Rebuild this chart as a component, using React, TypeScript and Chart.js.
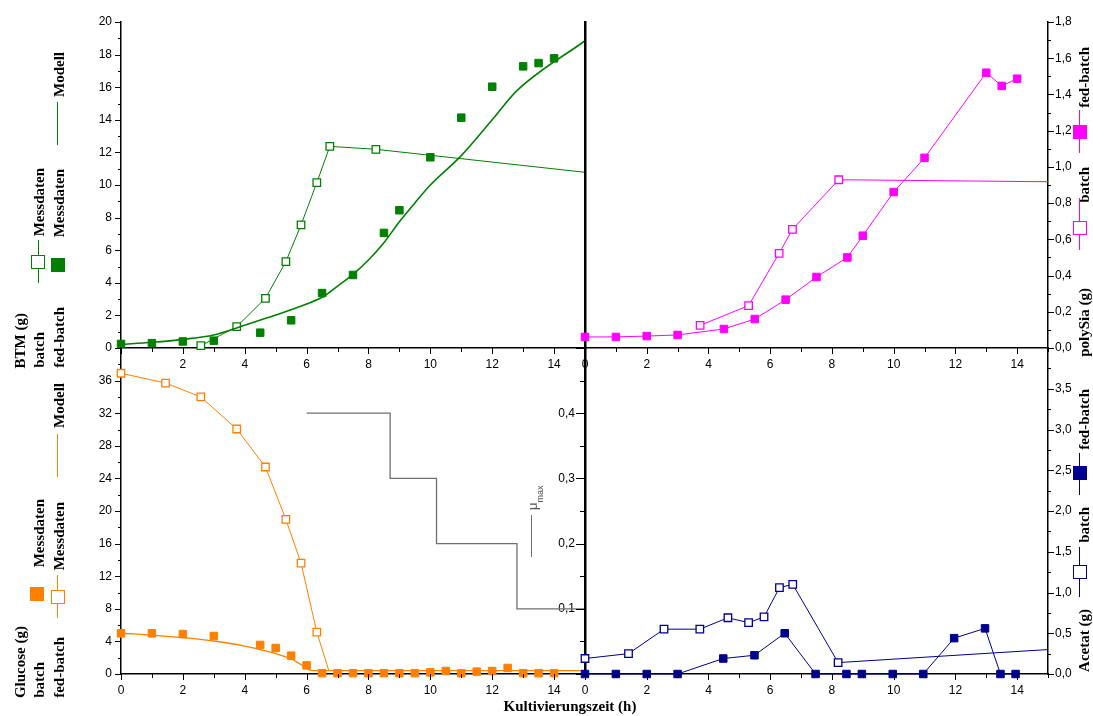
import React, { useEffect, useRef } from 'react';
import { Chart, registerables } from 'chart.js';
Chart.register(...registerables);

const W = 1093;
const H = 716;

// ---------- DATA ----------
// BTM (g) – top left
const btmFedTime = [0, 1, 2, 3, 4.5, 5.5, 6.5, 7.5, 8.5, 9, 10, 11, 12, 13, 13.5, 14];
const btmFedVal = [0.25, 0.3, 0.4, 0.45, 0.94, 1.7, 3.37, 4.48, 7.06, 8.45, 11.7, 14.13, 16.03, 17.28, 17.48, 17.77];
const btmModelTime = [0, 1, 2, 3, 4, 5, 6, 6.5, 7, 7.5, 8, 8.5, 9, 9.5, 10, 11, 12, 12.8, 15];
const btmModelVal = [0.22, 0.35, 0.53, 0.8, 1.4, 2.02, 2.7, 3.11, 3.8, 4.52, 5.4, 6.46, 7.75, 8.9, 10.0, 11.8, 14.0, 15.79, 18.85];
const btmBatchTime = [2.58, 3.74, 4.67, 5.33, 5.82, 6.33, 6.75, 8.24, 15];
const btmBatchVal = [0.14, 1.31, 3.05, 5.3, 7.55, 10.14, 12.37, 12.19, 10.78];

// polySia (g) – top right
const psFedTime = [0, 1, 2, 3, 4.5, 5.5, 6.5, 7.5, 8.5, 9, 10, 11, 13, 13.5, 14];
const psFedVal = [0.061, 0.061, 0.066, 0.072, 0.105, 0.16, 0.267, 0.392, 0.5, 0.62, 0.861, 1.05, 1.52, 1.447, 1.487];
const psBatchTime = [3.73, 5.3, 6.29, 6.72, 8.22, 15];
const psBatchVal = [0.125, 0.234, 0.523, 0.655, 0.929, 0.918];

// Glucose (g) – bottom left
const gluBatchTime = [0, 1, 2, 3, 4.5, 5, 5.5, 6, 6.5, 7, 7.5, 8, 8.5, 9, 9.5, 10, 10.5, 11, 11.5, 12, 12.5, 13, 13.5, 14];
const gluBatchVal = [4.99, 4.99, 4.9, 4.66, 3.56, 3.19, 2.25, 1.06, 0.1, 0.1, 0.1, 0.1, 0.1, 0.1, 0.1, 0.2, 0.37, 0.1, 0.29, 0.37, 0.74, 0.1, 0.1, 0.1];
const gluModelTime = [0, 1, 2, 3, 4, 5, 5.5, 5.84, 6.11, 6.3, 15];
const gluModelVal = [5.0, 4.78, 4.46, 4.05, 3.43, 2.5, 1.84, 1.1, 0.49, 0.42, 0.42];
const gluFedTime = [0, 1.44, 2.58, 3.74, 4.67, 5.33, 5.82, 6.33, 6.72];
const gluFedVal = [36.9, 35.7, 34.0, 30.06, 25.4, 18.98, 13.6, 5.15, 0.4];

// mu_max – bottom left, secondary axis
const muTime = [6.0, 8.7, 10.2, 12.8, 15];
const muVal = [0.4, 0.3, 0.2, 0.1, 0.1];

// Acetat (g) – bottom right
const acFedTime = [0, 1, 2, 3, 4.48, 5.49, 6.47, 7.47, 8.47, 8.97, 9.97, 10.96, 11.96, 12.96, 13.46, 13.95];
const acFedVal = [0, 0, 0, 0, 0.19, 0.23, 0.5, 0, 0, 0, 0, 0, 0.44, 0.56, 0, 0];
const acBatchTime = [0, 1.41, 2.56, 3.72, 4.63, 5.3, 5.8, 6.3, 6.73, 8.2, 15];
const acBatchVal = [0.19, 0.25, 0.55, 0.55, 0.69, 0.63, 0.7, 1.06, 1.1, 0.14, 0.3];

// ---------- STYLE ----------
const GREEN = '#008000';
const MAGENTA = '#ff00ff';
const ORANGE = '#ff8000';
const NAVY = '#00008f';
const GRAY = '#707070';
const TICK_FONT = { family: "'Liberation Sans', Arial, sans-serif", size: 12 };
const SERIF = "'Liberation Serif', 'Times New Roman', Times, serif";

const xy = (t: number[], v: number[]) => t.map((x, i) => ({ x, y: v[i] }));
const comma = (v: number) => v.toFixed(1).replace('.', ',');

function makeTickPlugin(items: any[]) {
  return {
    id: 'tickMarks',
    afterDraw(chart: any) {
      const ctx = chart.ctx;
      const ca = chart.chartArea;
      ctx.save();
      ctx.strokeStyle = '#000';
      ctx.lineWidth = 1;
      for (const it of items) {
        const sc = chart.scales[it.id];
        if (!sc) continue;
        const n = Math.round((sc.max - sc.min) / it.minor);
        for (let i = 0; i <= n; i++) {
          const v = sc.min + i * it.minor;
          const r = v / it.major;
          const isMajor = Math.abs(r - Math.round(r)) < 1e-6;
          const len = isMajor ? it.majorLen : it.minorLen;
          const p = Math.round(sc.getPixelForValue(v)) + 0.5;
          ctx.beginPath();
          if (sc.isHorizontal()) {
            const y0 = sc.position === 'bottom' ? ca.bottom : ca.top;
            const dir = (sc.position === 'bottom' ? 1 : -1) * (it.inward ? -1 : 1);
            ctx.moveTo(p, y0);
            ctx.lineTo(p, y0 + dir * len);
          } else {
            const x0 = sc.position === 'left' ? ca.left : ca.right;
            const dir = (sc.position === 'left' ? -1 : 1) * (it.inward ? -1 : 1);
            ctx.moveTo(x0, p);
            ctx.lineTo(x0 + dir * len, p);
          }
          ctx.stroke();
        }
      }
      ctx.restore();
    },
  };
}

const fixSize = (size: number) => (s: any) => {
  if (s.isHorizontal()) s.height = size;
  else s.width = size;
};

function timeAxis(showZero: boolean) {
  return {
    type: 'linear',
    axis: 'x',
    position: 'bottom',
    min: 0,
    max: 15,
    afterFit: fixSize(30),
    grid: { display: false, drawTicks: false, tickLength: 0 },
    border: { display: true, color: '#000', width: 1.5 },
    ticks: {
      stepSize: 2,
      autoSkip: false,
      maxRotation: 0,
      minRotation: 0,
      padding: 9,
      color: '#000',
      font: TICK_FONT,
      callback: (v: number) => (v < 15 && v % 2 === 0 && (showZero || v !== 0) ? String(v) : ''),
    },
  };
}

function valueAxis(position: string, min: number, max: number, step: number, fmt: (v: number) => string, width: number, padding: number) {
  return {
    type: 'linear',
    axis: 'y',
    position,
    min,
    max,
    afterFit: fixSize(width),
    grid: { display: false, drawTicks: false, tickLength: 0 },
    border: { display: true, color: '#000', width: 1.5 },
    ticks: { stepSize: step, autoSkip: false, padding, color: '#000', font: TICK_FONT, callback: fmt },
  };
}

function hiddenAxis(position: string) {
  return {
    type: 'linear',
    axis: 'y',
    position,
    min: 0,
    max: 1,
    afterFit: fixSize(0),
    grid: { display: false, drawTicks: false, tickLength: 0 },
    border: { display: true, color: '#000', width: 2.5 },
    ticks: { display: false },
  };
}

function baseOptions(pad: any, scales: any) {
  return {
    responsive: false,
    maintainAspectRatio: false,
    animation: false,
    devicePixelRatio: 1,
    events: [],
    layout: { padding: pad },
    plugins: { legend: { display: false }, tooltip: { enabled: false } },
    scales,
  };
}

function lineSet(data: any[], color: string, width: number, extra: any = {}) {
  return {
    data,
    xAxisID: 'x',
    yAxisID: 'y',
    showLine: true,
    borderColor: color,
    borderWidth: width,
    pointRadius: 0,
    clip: 8,
    ...extra,
  };
}

function markerSet(data: any[], color: string, filled: boolean, withLine: boolean, lastHidden: number = 0) {
  const n = data.length;
  return {
    data,
    xAxisID: 'x',
    yAxisID: 'y',
    showLine: withLine,
    borderColor: color,
    borderWidth: 1,
    pointStyle: 'rect',
    pointRadius: (c: any) => (c.dataIndex >= n - lastHidden ? 0 : 5.3),
    pointBackgroundColor: filled ? color : '#ffffff',
    pointBorderColor: color,
    pointBorderWidth: filled ? 1 : 1.3,
    clip: 8,
  };
}

function makeTL() {
  return {
    type: 'scatter',
    data: {
      datasets: [
        markerSet(xy(btmFedTime, btmFedVal), GREEN, true, false),
        lineSet(xy(btmModelTime, btmModelVal), GREEN, 1.6, { cubicInterpolationMode: 'monotone' }),
        markerSet(xy(btmBatchTime, btmBatchVal), GREEN, false, true, 1),
      ],
    },
    options: baseOptions(
      { left: 61, right: 508, top: 22, bottom: 338 },
      {
        x: timeAxis(false),
        y: valueAxis('left', 0, 20, 2, (v: number) => String(v), 60, 9),
      }
    ),
    plugins: [
      makeTickPlugin([
        { id: 'x', major: 2, minor: 1, majorLen: 6, minorLen: 4 },
        { id: 'y', major: 2, minor: 1, majorLen: 6, minorLen: 3 },
      ]),
    ],
  };
}

function makeTR() {
  return {
    type: 'scatter',
    data: {
      datasets: [
        markerSet(xy(psFedTime, psFedVal), MAGENTA, true, true),
        markerSet(xy(psBatchTime, psBatchVal), MAGENTA, false, true, 1),
      ],
    },
    options: baseOptions(
      { left: 585, right: 5, top: 22, bottom: 338 },
      {
        x: timeAxis(true),
        y: valueAxis('right', 0, 1.8, 0.2, comma, 40, 7),
        yl: hiddenAxis('left'),
      }
    ),
    plugins: [
      makeTickPlugin([
        { id: 'x', major: 2, minor: 1, majorLen: 6, minorLen: 4 },
        { id: 'y', major: 0.2, minor: 0.1, majorLen: 6, minorLen: 3 },
      ]),
    ],
  };
}

function makeBL() {
  const muAxis: any = valueAxis('right', 0, 0.5, 0.1, (v: number) => (v > 0.01 && v < 0.49 ? comma(v) : ''), 0, -10);
  muAxis.border = { display: false };
  muAxis.ticks.mirror = true;
  return {
    type: 'scatter',
    data: {
      datasets: [
        lineSet(xy(muTime, muVal), GRAY, 1.3, { yAxisID: 'mu', stepped: 'before' }),
        markerSet(xy(gluBatchTime, gluBatchVal), ORANGE, true, false),
        lineSet(xy(gluModelTime, gluModelVal), ORANGE, 1.3, { cubicInterpolationMode: 'monotone' }),
        markerSet(xy(gluFedTime, gluFedVal), ORANGE, false, true, 1),
      ],
    },
    options: baseOptions(
      { left: 61, right: 508, top: 348, bottom: 12 },
      {
        x: timeAxis(true),
        y: valueAxis('left', 0, 40, 4, (v: number) => (v < 39 ? String(v) : ''), 60, 9),
        mu: muAxis,
      }
    ),
    plugins: [
      makeTickPlugin([
        { id: 'x', major: 2, minor: 1, majorLen: 6, minorLen: 4 },
        { id: 'y', major: 4, minor: 2, majorLen: 6, minorLen: 3 },
        { id: 'mu', major: 0.1, minor: 0.05, majorLen: 9, minorLen: 5, inward: true },
      ]),
    ],
  };
}

function makeBR() {
  return {
    type: 'scatter',
    data: {
      datasets: [
        markerSet(xy(acFedTime, acFedVal), NAVY, true, true),
        markerSet(xy(acBatchTime, acBatchVal), NAVY, false, true, 1),
      ],
    },
    options: baseOptions(
      { left: 585, right: 5, top: 348, bottom: 12 },
      {
        x: timeAxis(true),
        y: valueAxis('right', 0, 4, 0.5, (v: number) => (v < 3.9 ? comma(v) : ''), 40, 7),
        yl: hiddenAxis('left'),
      }
    ),
    plugins: [
      makeTickPlugin([
        { id: 'x', major: 2, minor: 1, majorLen: 6, minorLen: 4 },
        { id: 'y', major: 0.5, minor: 0.25, majorLen: 6, minorLen: 3 },
      ]),
    ],
  };
}

function PanelChart({ make }: { make: () => any }) {
  const ref = useRef<HTMLCanvasElement>(null);
  useEffect(() => {
    const chart = new Chart(ref.current as HTMLCanvasElement, make());
    return () => chart.destroy();
  }, []);
  return (
    <canvas
      ref={ref}
      width={W}
      height={H}
      style={{ position: 'absolute', left: 0, top: 0, width: W, height: H }}
    />
  );
}

// ---------- legend helpers ----------
function VText({ x, bottom, text, size = 15 }: { x: number; bottom: number; text: string; size?: number }) {
  const lh = Math.round(size * 1.15);
  return (
    <div
      style={{
        position: 'absolute',
        left: x - lh / 2,
        bottom: H - bottom,
        width: lh,
        writingMode: 'vertical-rl',
        transform: 'rotate(180deg)',
        fontFamily: SERIF,
        fontWeight: 700,
        fontSize: size,
        lineHeight: `${lh}px`,
        whiteSpace: 'nowrap',
        color: '#000',
      }}
    >
      {text}
    </div>
  );
}

function VLine({ x, y1, y2, color }: { x: number; y1: number; y2: number; color: string }) {
  return <div style={{ position: 'absolute', left: x - 0.5, top: y1, width: 1, height: y2 - y1, background: color }} />;
}

function Sq({ x, y, color, filled, size = 14 }: { x: number; y: number; color: string; filled: boolean; size?: number }) {
  return (
    <div
      style={{
        position: 'absolute',
        left: x - size / 2,
        top: y - size / 2,
        width: size,
        height: size,
        boxSizing: 'border-box',
        border: `1.5px solid ${color}`,
        background: filled ? color : '#fff',
      }}
    />
  );
}

export default function App() {
  return (
    <div style={{ position: 'absolute', left: 0, top: 0, width: W, height: H, background: '#fff', overflow: 'hidden' }}>
      <PanelChart make={makeTL} />
      <PanelChart make={makeTR} />
      <PanelChart make={makeBL} />
      <PanelChart make={makeBR} />

      {/* top-left legend */}
      <VText x={20} bottom={368} text="BTM (g)" />
      <VText x={39} bottom={368} text="batch" />
      <VLine x={38} y1={240} y2={283} color={GREEN} />
      <Sq x={38} y={262} color={GREEN} filled={false} />
      <VText x={39} bottom={236} text="Messdaten" />
      <VText x={59} bottom={368} text="fed-batch" />
      <Sq x={58} y={265} color={GREEN} filled={true} />
      <VText x={59} bottom={237} text="Messdaten" />
      <VLine x={57.5} y1={102} y2={145} color={GREEN} />
      <VText x={59} bottom={97} text="Modell" />

      {/* bottom-left legend */}
      <VText x={20} bottom={698} text="Glucose (g)" />
      <VText x={39} bottom={698} text="batch" />
      <Sq x={37} y={594} color={ORANGE} filled={true} />
      <VText x={39} bottom={567} text="Messdaten" />
      <VText x={59} bottom={698} text="fed-batch" />
      <VLine x={57.5} y1={575} y2={618} color={ORANGE} />
      <Sq x={57.5} y={597} color={ORANGE} filled={false} />
      <VText x={59} bottom={570} text="Messdaten" />
      <VLine x={57.5} y1={434} y2={477} color={ORANGE} />
      <VText x={59} bottom={428} text="Modell" />

      {/* top-right legend */}
      <VText x={1084} bottom={108} text="fed-batch" />
      <VLine x={1079.5} y1={110} y2={153} color={MAGENTA} />
      <Sq x={1080} y={132} color={MAGENTA} filled={true} />
      <VText x={1084} bottom={203} text="batch" />
      <VLine x={1079.5} y1={198} y2={250} color={MAGENTA} />
      <Sq x={1080} y={228} color={MAGENTA} filled={false} />
      <VText x={1084} bottom={357} text="polySia (g)" />

      {/* bottom-right legend */}
      <VText x={1084} bottom={450} text="fed-batch" />
      <VLine x={1079.5} y1={453} y2={495} color={NAVY} />
      <Sq x={1080} y={473} color={NAVY} filled={true} />
      <VText x={1084} bottom={543} text="batch" />
      <VLine x={1079.5} y1={547} y2={597} color={NAVY} />
      <Sq x={1080} y={572} color={NAVY} filled={false} />
      <VText x={1084} bottom={672} text="Acetat (g)" />

      {/* mu_max legend */}
      <VLine x={531} y1={515} y2={557} color={GRAY} />
      <div
        style={{
          position: 'absolute',
          left: 526,
          top: 510,
          transform: 'rotate(-90deg)',
          transformOrigin: '0 0',
          fontFamily: "'Liberation Sans', Arial, sans-serif",
          fontSize: 13,
          lineHeight: '14px',
          color: '#555',
          whiteSpace: 'nowrap',
        }}
      >
        μ<span style={{ fontSize: 9, position: 'relative', top: 6 }}>max</span>
      </div>

      {/* x axis title */}
      <div
        style={{
          position: 'absolute',
          left: 420,
          width: 300,
          top: 697,
          textAlign: 'center',
          fontFamily: SERIF,
          fontWeight: 700,
          fontSize: 15,
          lineHeight: '18px',
          color: '#000',
          whiteSpace: 'nowrap',
        }}
      >
        Kultivierungszeit (h)
      </div>
    </div>
  );
}
